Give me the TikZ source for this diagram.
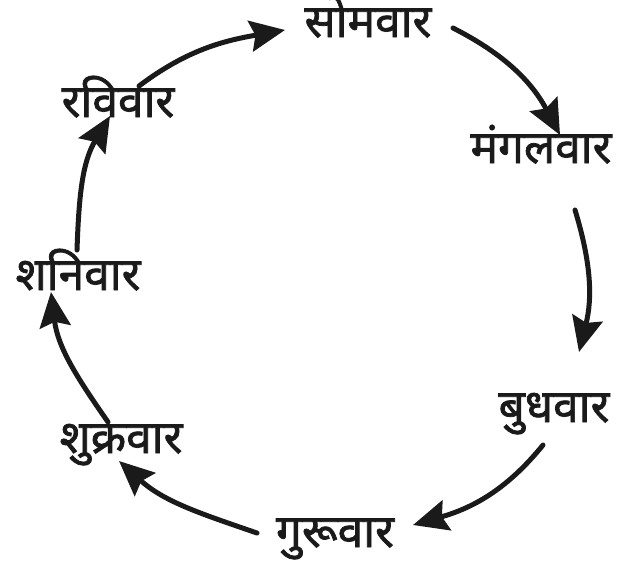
\documentclass[tikz,border=0pt]{standalone}
\usepackage{fontspec}
\newfontfamily\devfont[Script=Devanagari, FakeBold=1.6]{Noto Sans}
\usetikzlibrary{arrows.meta}
\definecolor{ink}{HTML}{1A1A1A}
\tikzset{%
  day/.style={anchor=base, inner sep=0pt, text=ink, font=\devfont\fontsize{46}{52}\selectfont},
  arr/.style={draw=ink, line width=5pt, line cap=round,
              -{Stealth[length=35pt, width=31pt, inset=5pt]}},
}

\begin{document}
\begin{tikzpicture}[x=1pt, y=1pt]
    \useasboundingbox (0,0) rectangle (617,-563);

    %days of the week
    \node[day] (som)    at (368,-37)  {सोमवार};
    \node[day] (mangal) at (541,-163) {मंगलवार};
    \node[day] (budh)   at (554,-422) {बुधवार};
    \node[day] (guru)   at (335,-547) {गुरूवार};
    \node[day] (shukra) at (121,-453) {शुक्रवार};
    \node[day] (shani)  at (78,-290)  {शनिवार};
    \node[day] (ravi)   at (118,-117) {रविवार};

    %arrows round the circle
    \draw[arr] ([shift={(21,31)}]ravi.base) to[out=37, in=190] ([shift={(-83,7)}]som.base);
    \draw[arr] ([shift={(85,9)}]som.base) to[out=-27, in=118] ([shift={(19,28)}]mangal.base);
    \draw[arr] ([shift={(34,-47)}]mangal.base) to[out=-73, in=76] ([shift={(25,70)}]budh.base);
    \draw[arr] ([shift={(-11,-23)}]budh.base) to[out=-129, in=16] ([shift={(78,22)}]guru.base);
    \draw[arr] ([shift={(-78,14)}]guru.base) to[out=161, in=-42] ([shift={(-2,-8)}]shukra.base);
    \draw[arr] ([shift={(-13,31)}]shukra.base) to[out=125, in=-83] ([shift={(-27,-2)}]shani.base);
    \draw[arr] ([shift={(-1,40)}]shani.base) to[out=88, in=-121] ([shift={(-8,1)}]ravi.base);

\end{tikzpicture}
\end{document}
